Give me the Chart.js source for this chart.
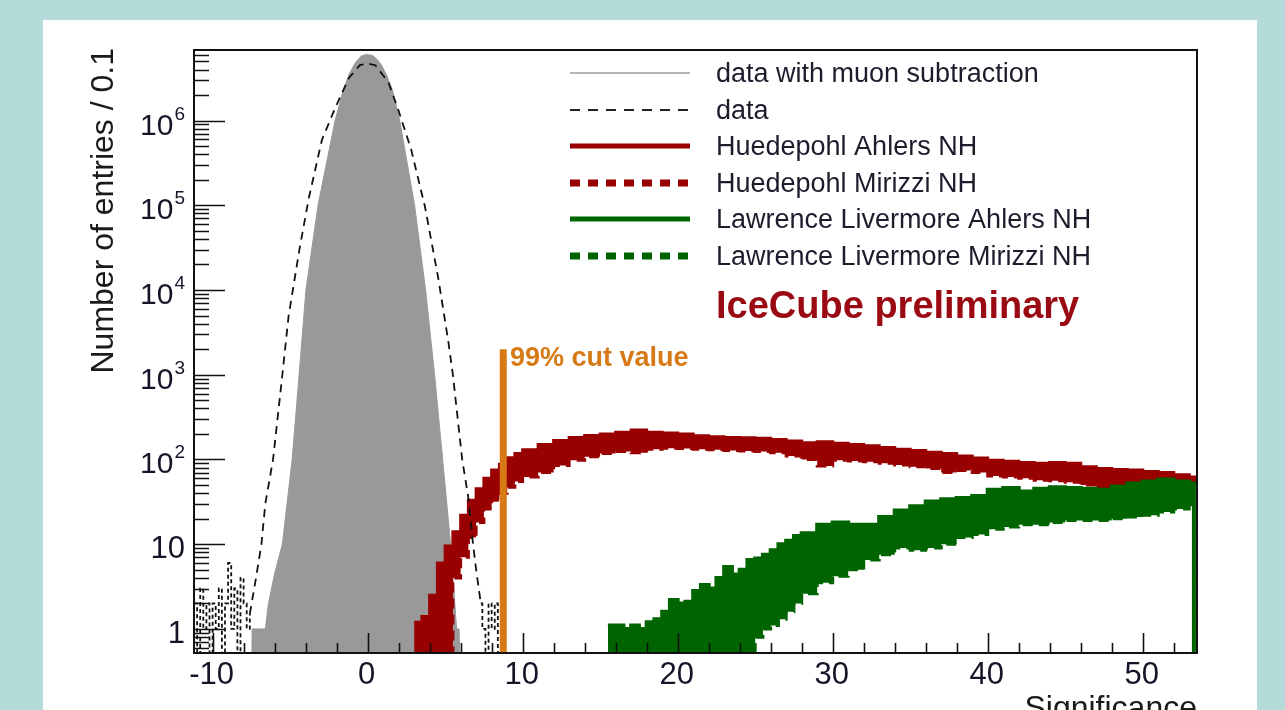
<!DOCTYPE html>
<html>
<head>
<meta charset="utf-8">
<script src="https://cdn.jsdelivr.net/npm/chart.js@4.4.1/dist/chart.umd.min.js"></script>
<style>
  html, body { margin: 0; padding: 0; }
  body { background: #b4dbd9; width: 1285px; height: 710px; overflow: hidden; position: relative; }
  #panel { position: absolute; left: 43px; top: 20px; width: 1214px; height: 700px; background: #fff; }
  #chart { position: absolute; left: 0; top: 0; }
</style>
</head>
<body>
<div id="panel"></div>
<canvas id="chart" width="1285" height="710"></canvas>
<script>
// values (significance, entries per 0.1 bin)
const greySig = [-7.5, -7.45, -6.6, -6.4, -6.0, -5.5, -5.2, -4.87, -4.42, -3.98, -3.2, -2.1, -1.6, -1.2, -0.8, -0.4, -0.1, 0.3, 0.6, 0.9, 1.2, 1.6, 2.07, 3.03, 3.74, 4.32, 4.84, 5.35, 5.74, 5.9, 6.05];
const greyVal = [0.1, 1, 1, 2, 4.5, 10, 30, 100, 1000, 1e4, 1e5, 1e6, 2.2e6, 3.5e6, 4.8e6, 5.8e6, 6.0e6, 5.9e6, 5.3e6, 4.5e6, 3.5e6, 2.3e6, 1e6, 1e5, 1e4, 1000, 100, 10, 1, 1, 0.1];

const dataSig = [-7.6, -7.2, -6.85, -6.6, -6.1, -5.5, -5.1, -4.4, -3.8, -2.95, -2.1, -1.2, -0.5, 0, 0.5, 1.35, 2.0, 2.8, 3.7, 4.55, 5.2, 5.5, 6.1, 6.5, 6.8, 7.0, 7.3];
const dataVal = [1.5, 4, 10, 30, 100, 1000, 4900, 3e4, 1.2e5, 5.9e5, 1.4e6, 3.2e6, 4.5e6, 4.7e6, 4.5e6, 2.8e6, 1.3e6, 4.6e5, 9.6e4, 1.4e4, 2500, 1000, 100, 35, 10, 5, 2];

// low-count tails of "data", one value per 0.2 bin
const tailSig = [-11.2, -11.0, -10.8, -10.6, -10.4, -10.2, -10.0, -9.8, -9.6, -9.4, -9.2, -9.0, -8.8, -8.6, -8.4, -8.2, -8.0, -7.8, -7.6, null, 7.3, 7.4, 7.6, 7.8, 8.0, 8.2, 8.4, 8.6];
const tailVal = [2, 0.1, 3, 1, 2, 0.1, 2, 1, 3, 0.1, 2, 6, 1, 3, 0.1, 4, 2, 1, 1.5, null, 2, 1, 0.1, 2, 1, 2, 0.1, 0.1];

const redSig = [3.0, 3.5, 4.0, 4.5, 5.0, 5.5, 6.0, 6.5, 7.0, 7.5, 8.0, 8.5, 9.0, 9.5, 10, 11, 12, 13, 14, 15, 16, 17, 18, 19, 20, 21, 22, 23, 24, 25, 26, 27, 28, 29, 30, 31, 32, 33, 34, 35, 36, 37, 38, 39, 40, 41, 42, 43, 44, 45, 46, 47, 48, 49, 50, 51, 52, 53, 53.5];
const huedepohlAhlers = [1.2, 1.4, 2.5, 6, 9.5, 14, 22, 33, 45, 60, 75, 88, 105, 118, 130, 150, 168, 182, 192, 200, 210, 222, 210, 205, 200, 190, 185, 182, 180, 178, 172, 165, 158, 162, 155, 150, 145, 138, 132, 128, 122, 118, 110, 104, 98, 95, 92, 90, 92, 90, 82, 78, 76, 75, 72, 70, 66, 62, 60];
const huedepohlMirizzi = [0.1, 0.1, 0.1, 0.1, 0.1, 4, 7, 12, 18, 26, 33, 40, 47, 55, 62, 70, 85, 98, 108, 118, 124, 120, 132, 136, 135, 132, 130, 128, 126, 124, 120, 110, 100, 84, 98, 96, 94, 90, 86, 82, 78, 70, 74, 70, 64, 62, 60, 57, 56, 54, 50, 44, 45, 48, 49, 50, 52, 52, 50];

const greenSig = [15.5, 16, 16.5, 17, 17.5, 18, 18.5, 19, 19.5, 20, 20.5, 21, 21.5, 22, 22.5, 23, 23.5, 24, 24.5, 25, 25.5, 26, 26.5, 27, 27.5, 28, 29, 30, 31, 32, 33, 34, 35, 36, 37, 38, 39, 40, 41, 42, 43, 44, 45, 46, 47, 48, 49, 50, 51, 52, 53, 53.3];
const llAhlers = [1.1, 1.1, 1.0, 1.1, 1.0, 1.2, 1.3, 1.6, 2.2, 2.0, 2.1, 2.8, 3.3, 3.0, 4.0, 5.4, 4.4, 5.0, 6.5, 6.8, 7.5, 8.5, 10, 11, 12.5, 13.5, 17, 18, 17, 17, 21, 25, 28, 32, 34, 35, 37, 44, 46, 42, 45, 47, 46, 45, 44, 48, 52, 55, 58, 55, 52, 0.1];
const llMirizzi = [0.1, 0.1, 0.1, 0.1, 0.1, 0.1, 0.1, 0.1, 0.1, 0.1, 0.1, 0.1, 0.1, 0.1, 0.1, 0.1, 0.1, 0.1, 0.1, 0.8, 1.0, 1.1, 1.3, 1.6, 2.0, 2.6, 3.5, 4.2, 5, 6.5, 7.5, 9, 8.5, 9, 10, 12, 13, 15, 16, 17, 17, 18, 19, 19, 19, 20, 21, 22, 24, 26, 28, 0.1];

const cutValue = 8.75;
const cutTop = 2000;

const xRange = [-11.2, 53.5];
const yRange = [0.52, 6.8e6];
const xTickLabels = [-10, 0, 10, 20, 30, 40, 50];
const yTickLabels = ["1", "10", "10^2", "10^3", "10^4", "10^5", "10^6"];

const legendLabels = [
    "data with muon subtraction",
    "data",
    "Huedepohl Ahlers NH",
    "Huedepohl Mirizzi NH",
    "Lawrence Livermore Ahlers NH",
    "Lawrence Livermore Mirizzi NH"
];

const FONT = "'Liberation Sans', Arial, Helvetica, sans-serif";
const RED = "#990000";
const GREEN = "#006400";
const ORANGE = "#d77a16";

function points(xs, ys) {
    return xs.map((x, i) => (x === null ? { x: NaN, y: null } : { x: x, y: ys[i] }));
}

const rootAxes = {
    id: "rootAxes",
    afterDraw(chart) {
        const ctx = chart.ctx;
        const { left, right, top, bottom } = chart.chartArea;
        const xs = chart.scales.x;
        const ys = chart.scales.y;
        ctx.save();

        // frame
        ctx.strokeStyle = "#111";
        ctx.lineWidth = 2;
        ctx.strokeRect(left, top, right - left, bottom - top);

        // ticks, ROOT style pointing inwards
        ctx.lineWidth = 1.6;
        ctx.beginPath();
        for (let v = -10; v <= xRange[1]; v += 2) {
            const px = Math.round(xs.getPixelForValue(v)) + 0.5;
            const len = v % 10 === 0 ? 20 : 10;
            ctx.moveTo(px, bottom);
            ctx.lineTo(px, bottom - len);
        }
        for (let d = -1; d <= 6; d++) {
            for (let m = 1; m <= 9; m++) {
                const v = m * Math.pow(10, d);
                if (v < yRange[0] || v > yRange[1]) continue;
                const py = Math.round(ys.getPixelForValue(v)) + 0.5;
                ctx.moveTo(left, py);
                ctx.lineTo(left + (m === 1 ? 31 : 15), py);
            }
        }
        ctx.stroke();

        // tick labels
        ctx.fillStyle = "#15152a";
        ctx.font = "31px " + FONT;
        ctx.textAlign = "center";
        ctx.textBaseline = "alphabetic";
        xTickLabels.forEach(v => {
            ctx.fillText(String(v), xs.getPixelForValue(v) - 1, 684);
        });

        yTickLabels.forEach((lab, i) => {
            const py = ys.getPixelForValue(Math.pow(10, i));
            const parts = lab.split("^");
            const xr = 185;
            ctx.textAlign = "left";
            if (parts.length === 1) {
                ctx.font = "31px " + FONT;
                const w = ctx.measureText(parts[0]).width;
                ctx.fillText(parts[0], xr - w, py + 14);
            } else {
                ctx.font = "19px " + FONT;
                const ws = ctx.measureText(parts[1]).width;
                ctx.fillText(parts[1], xr - ws, py - 1);
                ctx.font = "30px " + FONT;
                const wb = ctx.measureText(parts[0]).width;
                ctx.fillText(parts[0], xr - ws - wb - 1, py + 14);
            }
        });

        // axis titles
        ctx.font = "32px " + FONT;
        ctx.fillStyle = "#1a1a1a";
        ctx.textAlign = "right";
        ctx.fillText("Significance", right, 718);
        ctx.save();
        ctx.translate(113, top - 2);
        ctx.rotate(-Math.PI / 2);
        ctx.fillText("Number of entries / 0.1", 0, 0);
        ctx.restore();

        // legend
        const rowY = [73, 110, 146, 183, 219, 256];
        const styles = [
            { color: "#b5b5b5", width: 2, dash: [] },
            { color: "#222", width: 2, dash: [10, 8] },
            { color: RED, width: 5, dash: [] },
            { color: RED, width: 7, dash: [10, 8] },
            { color: GREEN, width: 5, dash: [] },
            { color: GREEN, width: 7, dash: [10, 8] }
        ];
        ctx.textAlign = "left";
        legendLabels.forEach((lab, i) => {
            const s = styles[i];
            ctx.strokeStyle = s.color;
            ctx.lineWidth = s.width;
            ctx.setLineDash(s.dash);
            ctx.beginPath();
            ctx.moveTo(570, rowY[i]);
            ctx.lineTo(690, rowY[i]);
            ctx.stroke();
            ctx.setLineDash([]);
            ctx.fillStyle = "#1c1c2c";
            ctx.font = "27px " + FONT;
            ctx.fillText(lab, 716, rowY[i] + 9);
        });

        ctx.fillStyle = "#9a0a12";
        ctx.font = "bold 38px " + FONT;
        ctx.fillText("IceCube preliminary", 716, 318);

        ctx.fillStyle = ORANGE;
        ctx.font = "bold 27px " + FONT;
        ctx.fillText("99% cut value", 510, 366);

        ctx.restore();
    }
};

const stepLine = {
    stepped: true,
    pointRadius: 0,
    tension: 0
};

new Chart(document.getElementById("chart"), {
    type: "line",
    data: {
        datasets: [
            {
                label: "99% cut value",
                data: [{ x: cutValue, y: 0.1 }, { x: cutValue, y: cutTop }],
                borderColor: ORANGE,
                borderWidth: 7,
                pointRadius: 0,
                fill: false
            },
            Object.assign({
                label: "data tails",
                data: points(tailSig, tailVal),
                borderColor: "#111",
                borderWidth: 1.8,
                borderDash: [4, 3],
                fill: false,
                spanGaps: false
            }, stepLine),
            {
                label: "data",
                data: points(dataSig, dataVal),
                borderColor: "#111",
                borderWidth: 1.8,
                borderDash: [8, 6],
                pointRadius: 0,
                fill: false
            },
            Object.assign({
                label: legendLabels[4],
                data: points(greenSig, llAhlers),
                borderColor: GREEN,
                borderWidth: 4,
                fill: false
            }, stepLine),
            Object.assign({
                label: legendLabels[5],
                data: points(greenSig, llMirizzi),
                borderColor: GREEN,
                backgroundColor: GREEN,
                borderWidth: 3,
                borderDash: [10, 6],
                fill: "-1"
            }, stepLine),
            Object.assign({
                label: legendLabels[2],
                data: points(redSig, huedepohlAhlers),
                borderColor: RED,
                borderWidth: 3,
                fill: false
            }, stepLine),
            Object.assign({
                label: legendLabels[3],
                data: points(redSig, huedepohlMirizzi),
                borderColor: RED,
                backgroundColor: RED,
                borderWidth: 3,
                borderDash: [10, 6],
                fill: "-1"
            }, stepLine),
            {
                label: legendLabels[0],
                data: points(greySig, greyVal),
                borderColor: "#999999",
                backgroundColor: "#999999",
                borderWidth: 1,
                pointRadius: 0,
                fill: "start"
            }
        ]
    },
    options: {
        responsive: false,
        animation: false,
        layout: { padding: { left: 194, top: 50, right: 88, bottom: 57 } },
        scales: {
            x: { type: "linear", min: xRange[0], max: xRange[1], display: false },
            y: { type: "logarithmic", min: yRange[0], max: yRange[1], display: false }
        },
        plugins: {
            legend: { display: false },
            tooltip: { enabled: false }
        }
    },
    plugins: [rootAxes]
});
</script>
</body>
</html>
